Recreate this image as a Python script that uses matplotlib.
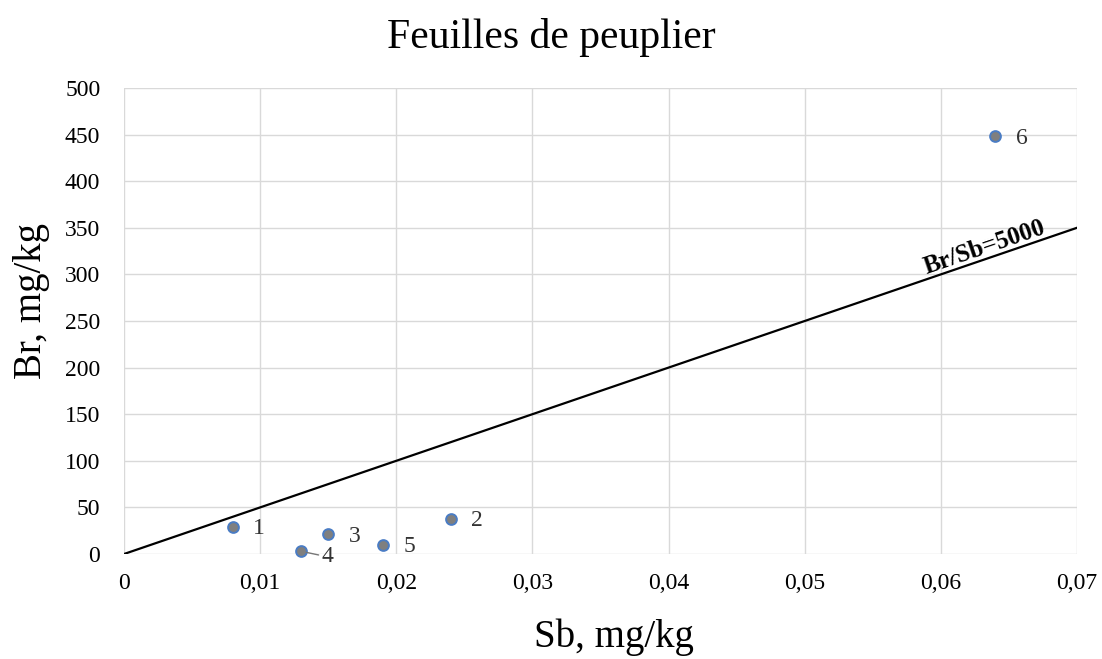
import matplotlib
matplotlib.use("Agg")
import matplotlib.pyplot as plt
import numpy as np

# data
sb = [0.008, 0.024, 0.015, 0.013, 0.019, 0.064]
br = [29, 38, 21, 3, 10, 448]
labels = ["1", "2", "3", "4", "5", "6"]
ratio = 5000
x_ticks = [0, 0.01, 0.02, 0.03, 0.04, 0.05, 0.06, 0.07]
x_tick_labels = ["0", "0,01", "0,02", "0,03", "0,04", "0,05", "0,06", "0,07"]
y_ticks = list(range(0, 501, 50))

plt.rcParams["font.family"] = ["Liberation Serif", "DejaVu Serif"]

fig = plt.figure(figsize=(11.02, 6.59), dpi=100)
ax = fig.add_axes([0.1125, 0.1593, 0.8648, 0.7072])
ax.set_xlim(0, 0.07)
ax.set_ylim(0, 500)

for s in ax.spines.values():
    s.set_visible(False)
ax.grid(True, color="#d9d9d9", lw=1.0)
ax.set_axisbelow(True)
ax.tick_params(length=0, labelsize=17)
ax.tick_params(axis="y", pad=17)
ax.tick_params(axis="x", pad=14)
ax.set_xticks(x_ticks)
ax.set_xticklabels(x_tick_labels)
ax.set_yticks(y_ticks)

# ratio line
lx = np.array([0, 0.07])
ax.plot(lx, ratio * lx, color="black", lw=1.6, zorder=2)
ax.text(0.0632, 329, "Br/Sb=5000", rotation=18.8, ha="center", va="center",
        fontsize=18, fontweight="bold", rotation_mode="anchor")

ax.scatter(sb, br, s=60, facecolor="#7f7f7f", edgecolor="#4a7cc4",
           linewidth=1.4, zorder=3, clip_on=False)

for x, y, lab in zip(sb, br, labels):
    if lab == "4":
        ax.annotate(lab, xy=(x, y), xytext=(x + 0.0015, y - 6),
                    fontsize=17, ha="left", va="center", color="#333333",
                    arrowprops=dict(arrowstyle="-", color="#777777", lw=1,
                                    shrinkA=0, shrinkB=4),
                    annotation_clip=False)
    else:
        ax.text(x + 0.0015, y - 2, lab, fontsize=17, ha="left", va="center",
                color="#333333")

ax.set_xlabel("Sb, mg/kg", fontsize=28, va="center")
ax.xaxis.set_label_coords(0.514, -0.178)
ax.set_ylabel("Br, mg/kg", fontsize=28, va="center")
ax.yaxis.set_label_coords(-0.097, 0.543)
fig.text(0.5, 0.943, "Feuilles de peuplier", ha="center", va="center",
         fontsize=30)

fig.savefig("out.png", dpi=100, facecolor="white")
